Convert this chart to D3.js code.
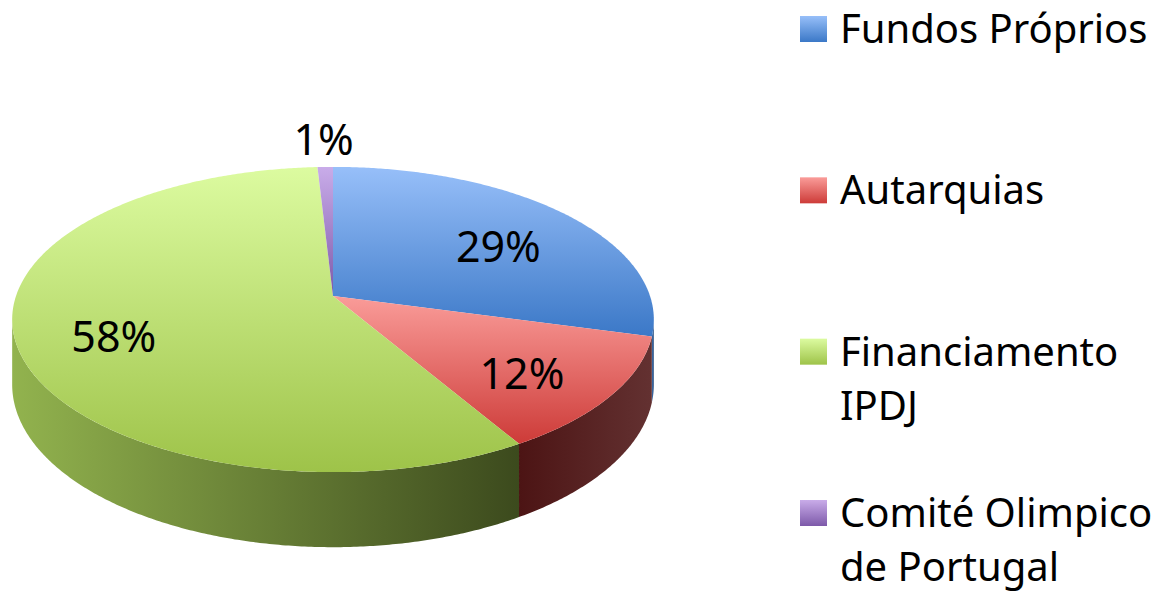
<!DOCTYPE html>
<html>
<head>
<meta charset="utf-8">
<script src="https://cdn.jsdelivr.net/npm/d3@7"></script>
<style>
  body { margin: 0; background: #fff; }
  svg { display: block; font-family: "Noto Sans", sans-serif; }
</style>
</head>
<body>
<div id="chart"></div>
<script>
// Data
const categories = ["Fundos Próprios", "Autarquias", "Financiamento IPDJ", "Comité Olimpico de Portugal"];
const legendLines = [["Fundos Próprios"], ["Autarquias"], ["Financiamento", "IPDJ"], ["Comité Olimpico", "de Portugal"]];
const values = [29.2, 12.3, 57.6, 0.9];

// colours: top face (light -> dark), side (left -> right)
const topColors = [["#97bff9", "#3b78c7"], ["#fa9c99", "#cd3b38"], ["#dcfba0", "#9ec349"], ["#c9ace9", "#7d59a9"]];
const sideColors = [["#3f6fae", "#2b4f7e"], ["#4c1414", "#633131"], ["#92b34e", "#3c4a1d"], ["#6f4f96", "#4e3570"]];

const W = 1171, H = 594;
const cx = 333, cy = 296;     // apex of the pie
const rx = 317, ry = 149;     // radii of the top face
const K = 0.154;              // perspective strength
const depth = 63.5;

const svg = d3.select("#chart").append("svg")
    .attr("width", W)
    .attr("height", H);

const defs = svg.append("defs");
topColors.forEach((c, i) => {
    const g = defs.append("linearGradient")
        .attr("id", "top" + i)
        .attr("x1", 0).attr("y1", 0).attr("x2", 0).attr("y2", 1);
    g.append("stop").attr("offset", "0%").attr("stop-color", c[0]);
    g.append("stop").attr("offset", "100%").attr("stop-color", c[1]);
});
sideColors.forEach((c, i) => {
    const g = defs.append("linearGradient")
        .attr("id", "side" + i)
        .attr("x1", 0).attr("y1", 0).attr("x2", 1).attr("y2", 0);
    g.append("stop").attr("offset", "0%").attr("stop-color", c[0]);
    g.append("stop").attr("offset", "100%").attr("stop-color", c[1]);
});

// scales from projected unit coordinates to pixels
const x = d3.scaleLinear().domain([-1, 1]).range([cx - rx, cx + rx]);
const y = d3.scaleLinear().domain([-1, 1]).range([cy - ry, cy + ry]);

// perspective projection of a point on the pie disc
function proj(theta, r) {
    const u = r * Math.sin(theta), v = -r * Math.cos(theta);
    const w = 1 - K * v;
    return [x(u / w), y(v / w), w];
}

const pie = d3.pie().sort(null).value(d => d)(values);
const total = d3.sum(values);

const line = d3.line();
const step = Math.PI / 360;

function arcPoints(a0, a1, r) {
    const n = Math.max(2, Math.ceil((a1 - a0) / step));
    return d3.range(n + 1).map(i => proj(a0 + (a1 - a0) * i / n, r));
}

// visible part of the outer wall
const wallStart = Math.PI / 2 + Math.asin(K);
const wallEnd = 3 * Math.PI / 2 - Math.asin(K);

const walls = svg.append("g");
pie.forEach((s, i) => {
    const a0 = Math.max(s.startAngle, wallStart);
    const a1 = Math.min(s.endAngle, wallEnd);
    if (a1 <= a0) return;
    const top = arcPoints(a0, a1, 1);
    const bottom = top.map(p => [p[0], p[1] + depth / p[2]]).reverse();
    walls.append("path")
        .attr("d", line(top.concat(bottom).map(p => [p[0], p[1]])) + "Z")
        .attr("fill", `url(#side${i})`);
});

const tops = svg.append("g");
pie.forEach((s, i) => {
    const pts = [[cx, cy]].concat(arcPoints(s.startAngle, s.endAngle, 1).map(p => [p[0], p[1]]));
    tops.append("path")
        .attr("d", line(pts) + "Z")
        .attr("fill", `url(#top${i})`);
});

// data labels
const labels = svg.append("g")
    .attr("font-size", 43)
    .attr("fill", "#000")
    .attr("text-anchor", "middle");
pie.forEach((s, i) => {
    const mid = (s.startAngle + s.endAngle) / 2;
    const share = s.value / total;
    const outside = share < 0.03;
    const p = proj(mid, outside ? 1.25 : 0.7);
    labels.append("text")
        .attr("x", p[0])
        .attr("y", p[1] + (outside ? 0 : 10))
        .attr("dy", "0.35em")
        .text(Math.round(share * 100) + "%");
});

// legend
const ly = d3.scaleLinear().domain([0, categories.length - 1]).range([43, 527]);
const legend = svg.append("g").attr("font-size", 40).attr("fill", "#000");
categories.forEach((c, i) => {
    const base = ly(i);
    legend.append("rect")
        .attr("x", 800)
        .attr("y", base - 27)
        .attr("width", 27)
        .attr("height", 26)
        .attr("fill", `url(#top${i})`);
    const t = legend.append("text").attr("x", 840).attr("y", base);
    legendLines[i].forEach((l, j) => {
        t.append("tspan")
            .attr("x", 840)
            .attr("dy", j === 0 ? 0 : 54)
            .text(l);
    });
});
</script>
</body>
</html>
